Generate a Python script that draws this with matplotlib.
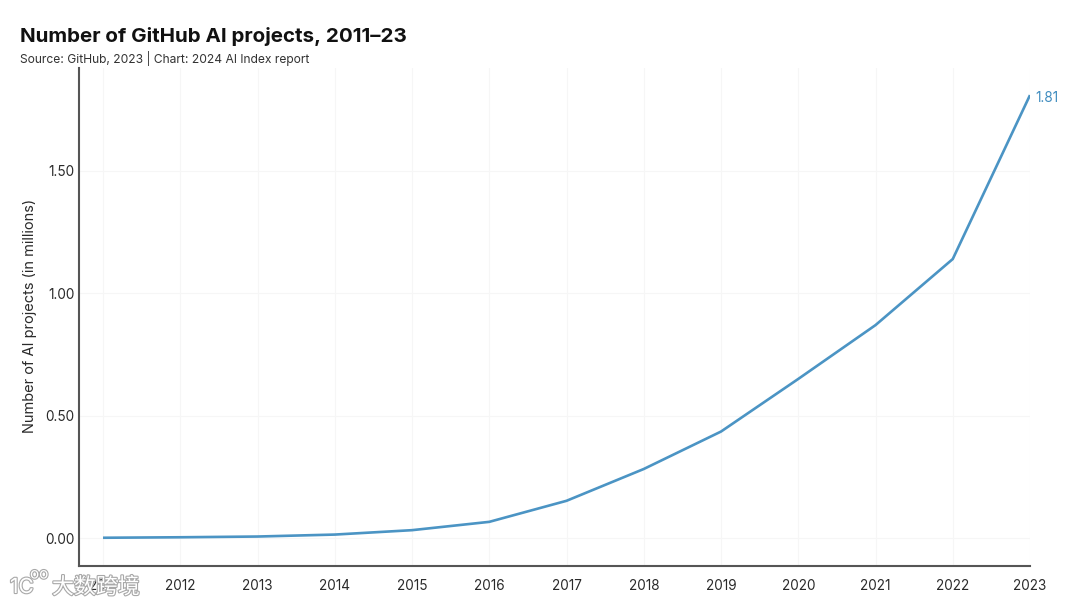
import matplotlib
matplotlib.use('Agg')
import matplotlib.pyplot as plt
import matplotlib.patheffects as pe

plt.rcParams['font.family'] = ['Inter', 'Noto Sans CJK SC', 'DejaVu Sans']

years = [2011, 2012, 2013, 2014, 2015, 2016, 2017, 2018, 2019, 2020, 2021, 2022, 2023]
projects = [0.001, 0.003, 0.006, 0.014, 0.032, 0.066, 0.152, 0.282, 0.435, 0.65, 0.87, 1.14, 1.81]
yticks = [0.0, 0.5, 1.0, 1.5]

fig = plt.figure(figsize=(10.8, 6.06), dpi=100)
ax = fig.add_axes([79 / 1080, 1 - 566 / 606, (1030 - 79) / 1080, (566 - 68) / 606])

ax.plot(years, projects, color='#4b94c4', lw=1.9, solid_capstyle='butt', solid_joinstyle='miter', zorder=3)
ax.text(2023.075, 1.80, '1.81', color='#3f8cbf', fontsize=9.8, va='center', clip_on=False)

# 2011 at x=103, 2023 at x=1029, bottom spine y=566, 0 at 538, 1.5 at 171
ax.set_xlim(2011 - 24 / 77.2, 2023)
ax.set_ylim(-28 / 244.7, (538 - 68) / 244.7)
ax.set_xticks(years)
ax.set_yticks(yticks)
ax.set_yticklabels(['%.2f' % v for v in yticks])
ax.grid(color='#f6f6f6', lw=0.8)
ax.set_axisbelow(True)
ax.tick_params(length=0, labelsize=9.8, colors='#2a2a2a')
ax.tick_params(axis='x', pad=9)
ax.tick_params(axis='y', pad=3)

ax.spines['top'].set_visible(False)
ax.spines['right'].set_visible(False)
ax.spines['left'].set_color('#555555')
ax.spines['bottom'].set_color('#555555')
ax.spines['left'].set_linewidth(1.5)
ax.spines['bottom'].set_linewidth(1.5)

ax.set_ylabel('Number of AI projects (in millions)', fontsize=10.5, color='#2a2a2a')
ax.yaxis.set_label_coords(-0.044, 0.503)

fig.text(20 / 1080, 1 - 36 / 606, 'Number of GitHub AI projects, 2011–23', fontsize=14.8,
         fontweight='bold', color='#111111', va='center')
fig.text(20 / 1080, 1 - 58 / 606, 'Source: GitHub, 2023 | Chart: 2024 AI Index report', fontsize=8.7,
         color='#333333', va='center')

# watermark bottom left, sits on top of the 2011 label like the reference
halo = [pe.withStroke(linewidth=1.6, foreground='#a8a8a8')]
fig.text(52 / 1080, 1 - 587 / 606, '大数跨境', fontsize=15.8, color='white', va='center',
         path_effects=halo, zorder=5)
fig.text(10 / 1080, 1 - 587 / 606, '1C', fontsize=15, color='white', va='center',
         path_effects=halo, zorder=5)
fig.text(30 / 1080, 1 - 574 / 606, 'oo', fontsize=11, color='white', va='center',
         path_effects=halo, zorder=5)

fig.savefig('out.png', dpi=100)
